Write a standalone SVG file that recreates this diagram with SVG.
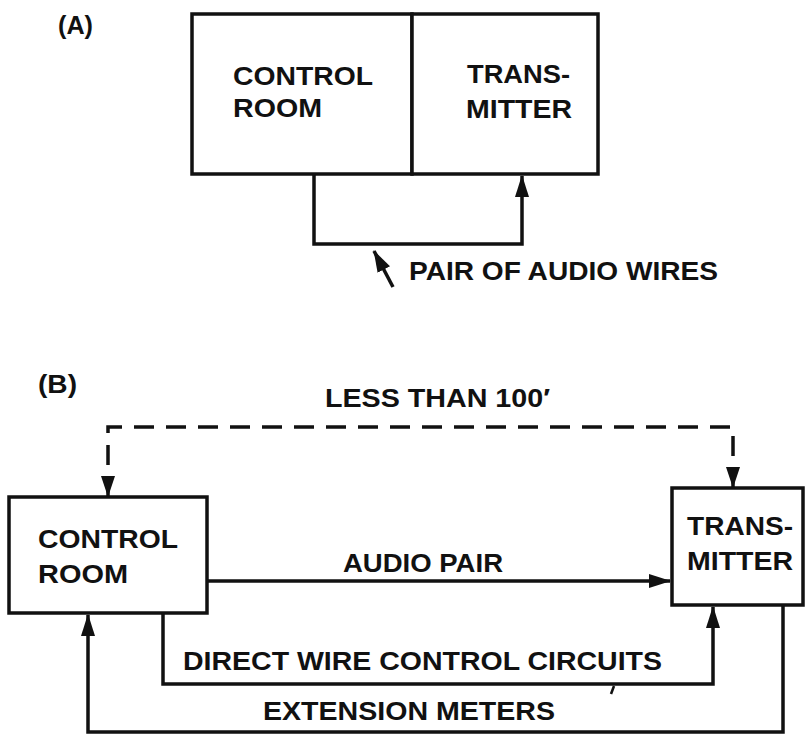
<svg xmlns="http://www.w3.org/2000/svg" width="806" height="740" viewBox="0 0 806 740">
<style>
.t{font-family:"Liberation Sans",Arial,sans-serif;font-size:25px;font-weight:bold;fill:#111}
.b{fill:#fff;stroke:#111;stroke-width:3.5}
.w{fill:none;stroke:#111;stroke-width:3.5;stroke-linejoin:miter}
.d{fill:none;stroke:#111;stroke-width:3.5;stroke-dasharray:20 12}
</style>
<defs>
<marker id="ah" viewBox="0 0 22 14" refX="21" refY="7" markerWidth="22" markerHeight="14" markerUnits="userSpaceOnUse" orient="auto">
<path d="M0,0 L22,7 L0,14 Z" fill="#111"/>
</marker>
</defs>
<rect width="806" height="740" fill="#fff"/>
<text class="t" x="58" y="34" textLength="35" lengthAdjust="spacingAndGlyphs">(A)</text>
<text class="t" x="38" y="393" textLength="39" lengthAdjust="spacingAndGlyphs">(B)</text>
<g id="a-control-room">
<rect class="b" x="192" y="14" width="220" height="160"/>
<text class="t" x="233" y="85" textLength="140" lengthAdjust="spacingAndGlyphs">CONTROL</text>
<text class="t" x="233" y="117" textLength="89" lengthAdjust="spacingAndGlyphs">ROOM</text>
</g>
<g id="a-transmitter">
<rect class="b" x="412" y="14" width="186" height="160"/>
<text class="t" x="467" y="83" textLength="103" lengthAdjust="spacingAndGlyphs">TRANS-</text>
<text class="t" x="466" y="118" textLength="106" lengthAdjust="spacingAndGlyphs">MITTER</text>
</g>
<g id="b-control-room">
<rect class="b" x="9" y="497" width="198" height="116"/>
<text class="t" x="38" y="548" textLength="140" lengthAdjust="spacingAndGlyphs">CONTROL</text>
<text class="t" x="38" y="583" textLength="90" lengthAdjust="spacingAndGlyphs">ROOM</text>
</g>
<g id="b-transmitter">
<rect class="b" x="672" y="488" width="131" height="117"/>
<text class="t" x="687" y="535" textLength="106" lengthAdjust="spacingAndGlyphs">TRANS-</text>
<text class="t" x="687" y="570" textLength="106" lengthAdjust="spacingAndGlyphs">MITTER</text>
</g>
<g id="connectors">
<path class="w" d="M314,174 V244 H522 V176" marker-end="url(#ah)"/>
<path class="w" d="M393,287 L374,251" marker-end="url(#ah)"/>
<path class="d" d="M108,497 V427 H733 V488"/>
<path d="M101,476 L108,497 L115,476 Z" fill="#111"/>
<path d="M726,467 L733,488 L740,467 Z" fill="#111"/>
<path class="w" d="M207,581 H670" marker-end="url(#ah)"/>
<path class="w" d="M163,613 V684 H713 V607" marker-end="url(#ah)"/>
<path class="w" d="M783,605 V732 H88 V615" marker-end="url(#ah)"/>
<path d="M614,686 L611,694" stroke="#111" stroke-width="2.5" fill="none"/>
</g>
<text class="t" x="409" y="280" textLength="309" lengthAdjust="spacingAndGlyphs">PAIR OF AUDIO WIRES</text>
<text class="t" x="325" y="407" textLength="225" lengthAdjust="spacingAndGlyphs">LESS THAN 100′</text>
<text class="t" x="343" y="572" textLength="160" lengthAdjust="spacingAndGlyphs">AUDIO PAIR</text>
<text class="t" x="183" y="670" textLength="479" lengthAdjust="spacingAndGlyphs">DIRECT WIRE CONTROL CIRCUITS</text>
<text class="t" x="263" y="720" textLength="292" lengthAdjust="spacingAndGlyphs">EXTENSION METERS</text>
</svg>
